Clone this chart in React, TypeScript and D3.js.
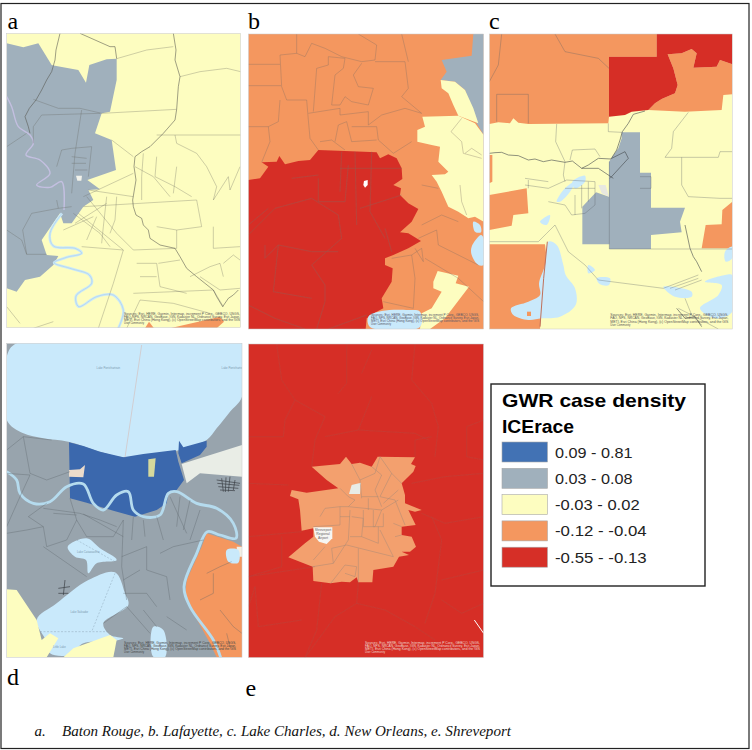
import React from "react";
import * as d3 from "d3";

type Pt = [number, number];

// legend
const legendTitle = "GWR case density";
const legendSub = "ICErace";
const classLabels = ["0.09 - 0.81", "0.03 - 0.08", "-0.03 - 0.02", "-0.12 - -0.04", "-0.55 - -0.13"];
const classColors = ["#4272b4", "#a0b0bc", "#fdfdc0", "#f4975f", "#d62f27"];
const [BLUE, GREY, YELLOW, ORANGE, RED] = classColors;
const WATER = "#c9e9fb";
const caption = "Baton Rouge, b. Lafayette, c. Lake Charles, d. New Orleans, e. Shreveport";
const credits = [
  "Sources: Esri, HERE, Garmin, Intermap, increment P Corp., GEBCO, USGS,",
  "FAO, NPS, NRCAN, GeoBase, IGN, Kadaster NL, Ordnance Survey, Esri Japan,",
  "METI, Esri China (Hong Kong), (c) OpenStreetMap contributors, and the GIS",
  "User Community",
];

// a. Baton Rouge
const aGrey: Pt[] = [[20,130],[70,142],[115,130],[155,195],[165,197],[235,210],[258,248],[268,195],[320,178],[350,176],[350,240],[330,335],[305,340],[285,400],[335,420],[348,510],[262,540],[300,568],[265,570],[280,600],[250,620],[215,670],[190,670],[180,640],[125,720],[140,765],[175,768],[160,795],[120,830],[75,840],[50,875],[20,865]];
const aOrange: Pt[] = [[510,985],[660,950],[672,965],[650,985]];
const aPatch: Pt[] = [[228,527],[246,527],[244,542],[232,542]];
const aOrange2: Pt[] = [[435,985],[447,965],[462,985]];
const aRiver: Pt[] = [[186,640],[150,700],[160,738],[225,745],[245,760],[200,772],[162,788],[210,805],[268,825],[275,850],[228,888],[236,920],[290,890],[340,885],[370,930],[355,985]];
const aUpperRiver: Pt[] = [[20,290],[35,320],[55,380],[90,405],[100,430],[78,465],[120,480],[150,520],[110,555],[150,562],[185,545],[192,630]];
const aAmite: Pt[][] = [
  [[180,100],[168,150],[165,180],[155,215],[140,240],[125,270],[108,300],[88,325],[75,350],[85,380],[90,400]],
  [[530,328],[525,360],[490,400],[450,440],[425,455],[405,470],[402,500],[408,540],[398,600],[400,620],[408,645],[425,655],[430,675],[445,690],[450,715],[480,735],[525,745],[540,770],[560,805],[590,830],[640,870],[650,890],[668,920],[685,895],[700,885],[715,870]],
  [[350,176],[345,140],[330,140],[240,100]],
  [[520,100],[528,150],[525,180],[540,230],[535,260],[530,328]],
];
const aLines: Pt[][] = [
  [[100,298],[175,325],[240,325],[305,340],[530,328]],
  [[350,176],[440,150],[520,140]],
  [[540,230],[600,215],[680,205],[722,215]],
  [[470,405],[722,405]],
  [[525,405],[530,430],[590,460],[620,500],[650,560],[640,600],[685,530],[690,570],[720,500]],
  [[245,330],[225,460],[215,580]],
  [[125,345],[300,340]],
  [[125,345],[100,380],[100,430]],
  [[275,440],[215,445],[185,450],[170,500]],
  [[265,530],[275,440]],
  [[335,420],[400,470]],
  [[215,470],[260,475]],
  [[215,490],[258,490]],
  [[225,510],[262,510]],
  [[170,600],[175,625],[215,620]],
  [[175,625],[95,640],[68,690],[80,763],[140,763]],
  [[20,690],[65,720],[80,763]],
  [[20,440],[50,420],[80,400]],
  [[250,590],[400,520]],
  [[265,570],[400,590]],
  [[250,620],[590,600]],
  [[235,640],[370,750]],
  [[260,590],[350,700],[400,750],[530,745]],
  [[220,640],[300,700],[330,740]],
  [[290,650],[260,720]],
  [[320,590],[310,680],[305,730]],
  [[350,590],[345,660],[330,700]],
  [[225,670],[320,610]],
  [[190,690],[280,650]],
  [[245,740],[370,750]],
  [[370,750],[340,850],[295,985]],
  [[405,500],[460,530],[510,590]],
  [[430,460],[425,530],[425,600]],
  [[470,470],[465,530],[525,560],[575,590]],
  [[530,500],[520,580]],
  [[590,600],[605,680],[530,690],[470,680]],
  [[530,690],[530,745]],
  [[640,680],[640,745],[720,740]],
  [[410,790],[470,790],[480,860],[560,880]],
  [[475,790],[540,780]],
  [[420,830],[470,830]],
  [[400,880],[640,870],[670,920]],
  [[380,985],[420,900],[520,910],[630,940]],
  [[20,920],[60,970]],
  [[100,985],[160,965]],
  [[570,830],[630,800],[660,790],[670,830]],
  [[600,830],[660,870],[720,865]],
  [[670,790],[700,765],[720,780]],
];

// b. Lafayette
const bRed: Pt[] = [[10,465],[45,460],[70,425],[50,412],[95,410],[103,393],[120,418],[160,408],[195,405],[220,375],[300,378],[395,382],[405,400],[430,388],[455,400],[470,430],[472,462],[445,480],[468,490],[465,510],[490,535],[520,552],[500,590],[465,622],[490,625],[528,648],[490,670],[445,690],[420,700],[420,720],[443,730],[440,770],[410,820],[415,850],[395,860],[365,880],[362,912],[10,912]];
const bYellowNorth: Pt[] = [[587,165],[630,170],[660,195],[685,250],[700,295],[640,272],[625,240],[610,205],[590,190]];
const bYellowMid: Pt[] = [[532,275],[640,272],[690,295],[716,330],[716,590],[690,575],[670,580],[640,560],[610,545],[590,500],[575,470],[560,450],[600,448],[610,440],[580,410],[585,365],[560,360],[517,350],[517,315],[540,305]];
const bGrey: Pt[] = [[685,27],[716,27],[716,330],[695,295],[660,195],[630,170],[587,165],[605,140],[590,105],[680,92]];
const bYellowSouth: Pt[] = [[578,738],[640,752],[632,775],[672,785],[600,880],[555,912],[525,912],[530,865],[560,850],[590,800],[565,790],[565,770]];
const bWaterSouth: Pt[] = [[370,875],[410,858],[490,855],[525,860],[525,906],[375,906]];
const bWaterEastA: Pt[] = [[685,590],[705,600],[708,622],[690,620]];
const bWaterEastB: Pt[] = [[680,665],[708,630],[716,640],[716,720],[700,720],[680,690]];
const bPatch: Pt[] = [[357,468],[368,465],[368,480],[360,488],[355,480]];
const bLines: Pt[][] = [
  [[10,118],[105,118]],
  [[10,182],[108,182]],
  [[105,90],[155,85],[155,27]],
  [[105,90],[110,185],[125,225],[185,225],[190,285]],
  [[105,225],[100,290],[70,305],[75,350],[50,412]],
  [[10,305],[70,305]],
  [[155,85],[180,95],[200,55],[240,70],[290,95],[350,110],[390,105],[395,60],[340,27]],
  [[390,110],[480,110],[490,190],[470,215],[530,265]],
  [[470,27],[490,110]],
  [[205,260],[215,130],[250,120],[250,95],[300,100],[295,130],[270,150],[260,240],[285,240],[300,215],[320,230],[370,240],[385,190],[340,185],[325,150],[350,115]],
  [[190,265],[285,250],[285,270],[370,260],[370,300],[410,270],[480,250],[530,265]],
  [[190,285],[195,340],[220,375]],
  [[270,350],[280,300],[305,290],[320,350],[395,345]],
  [[320,305],[395,305],[400,345],[445,385],[500,350]],
  [[225,350],[260,345],[300,375]],
  [[520,640],[575,615],[580,660],[640,690],[700,720]],
  [[500,690],[510,760],[505,850]],
  [[540,700],[640,760],[716,830]],
  [[510,670],[535,710],[530,670],[500,690]],
  [[440,700],[500,690]],
  [[530,600],[590,570],[640,590]],
  [[415,830],[505,850]],
  [[530,480],[580,490]],
  [[650,280],[618,320],[650,350],[655,385],[710,400]],
  [[660,385],[680,370],[710,390]],
  [[645,480],[650,530],[665,570]],
  [[10,630],[90,550],[200,520],[280,570],[290,640],[200,720],[240,780],[240,830],[215,912]],
  [[60,660],[60,700],[100,660],[85,800],[200,820]],
  [[220,460],[220,530],[300,530],[310,420]],
  [[285,430],[470,430]],
  [[290,380],[285,500]],
  [[330,380],[335,600]],
  [[380,380],[375,560],[420,640]],
  [[345,550],[470,510]],
  [[10,840],[90,880],[180,912]],
  [[250,912],[365,870]],
  [[420,610],[440,680]],
  [[100,660],[200,680],[280,680]],
  [[140,460],[220,450]],
  [[10,600],[70,550]],
];

// c. Lake Charles
const cOrangeNorth: Pt[] = [[13,27],[515,27],[515,95],[372,95],[372,275],[370,295],[130,297],[100,293],[85,280],[75,295],[40,292],[13,297]];
const cRed: Pt[] = [[515,27],[742,27],[742,118],[705,105],[695,125],[625,128],[635,85],[620,72],[590,85],[548,88],[565,130],[578,180],[570,205],[530,222],[510,235],[490,255],[440,260],[420,270],[372,275],[372,95],[515,95]];
const cOrangeMid: Pt[] = [[548,88],[590,85],[620,72],[635,85],[625,128],[695,125],[705,105],[742,118],[742,208],[715,210],[710,255],[600,260],[490,255],[510,235],[530,222],[570,205],[578,180],[565,130]];
const cGrey: Pt[] = [[410,322],[465,322],[465,443],[498,443],[498,548],[600,548],[585,590],[590,622],[498,630],[498,672],[373,672],[373,658],[292,658],[292,545],[333,502],[372,515],[372,410],[400,370],[410,340]];
const cOrangeEdge: Pt[] = [[13,390],[22,390],[22,470],[13,475]];
const cOrangeWest: Pt[] = [[13,510],[125,490],[130,565],[85,570],[80,602],[13,615]];
const cOrangeEast: Pt[] = [[742,530],[742,670],[650,670],[662,600],[710,598],[712,555]];
const cOrangeSouth: Pt[] = [[13,658],[180,658],[185,700],[175,790],[165,912],[13,912]];
const cLake: Pt[] = [[190,650],[215,660],[235,720],[242,750],[270,790],[272,840],[225,875],[170,880],[130,885],[85,870],[78,850],[130,830],[165,810],[162,775],[180,720]];
const cIsland: Pt[] = [[126,860],[138,860],[138,873],[126,873]];
const cPonds: Pt[][] = [
  [[262,470],[300,452],[300,470],[270,490]],
  [[215,530],[240,490],[270,470],[255,500],[225,530]],
  [[165,590],[195,570],[185,600]],
  [[310,720],[330,735],[310,745]],
  [[335,760],[375,760],[372,780],[345,778]],
  [[535,785],[620,800],[620,815],[570,815]],
  [[660,770],[720,750],[742,750],[742,860],[690,880],[645,850],[700,810],[710,780]],
  [[720,680],[742,665],[742,700],[722,710]],
];
const cPatch: Pt[] = [[340,480],[362,480],[372,515],[350,505]];
const cRivers: Pt[][] = [
  [[13,385],[30,383],[50,382],[70,390],[100,392],[130,405],[150,402],[175,410],[200,405],[240,412],[262,408],[290,430],[310,420],[340,400],[378,402],[395,375],[405,345],[412,320],[430,295],[445,268],[480,258]],
  [[600,600],[615,670],[625,695],[635,710],[650,740]],
  [[380,400],[420,380],[430,400],[375,460]],
  [[290,430],[340,430],[385,460]],
  [[575,850],[600,880],[630,875],[650,905]],
];
const cLines: Pt[][] = [
  [[210,27],[240,80],[340,100],[372,130]],
  [[50,27],[40,120],[13,170]],
  [[35,290],[35,208],[130,208],[130,295]],
  [[215,297],[212,350],[240,410],[235,450],[240,470]],
  [[370,295],[370,320],[410,322]],
  [[255,405],[262,375],[330,372],[345,395]],
  [[610,262],[565,320],[560,370],[540,397],[700,397],[705,380],[742,380]],
  [[590,397],[590,480],[610,515],[705,520],[742,520]],
  [[120,460],[190,470]],
  [[120,480],[190,490],[245,465],[330,470],[330,540],[300,565],[260,570],[240,540],[190,530]],
  [[130,465],[130,490]],
  [[13,650],[160,650],[185,625],[210,600]],
  [[210,600],[250,680],[300,720],[340,765],[535,790],[640,750]],
  [[555,790],[640,760]],
  [[570,795],[650,765]],
  [[373,672],[742,672]],
  [[373,410],[373,672]],
  [[465,455],[498,455],[498,490],[465,490]],
  [[240,490],[330,490]],
  [[270,510],[270,570]],
  [[290,480],[290,550]],
  [[310,470],[310,530]],
  [[600,820],[620,870],[650,900]],
  [[580,850],[640,880],[700,912]],
];
const cCoast: Pt[] = [[187,650],[176,760],[165,905]];

// d. New Orleans
const dPontchartrain: Pt[] = [[20,50],[50,10],[726,10],[726,170],[690,215],[650,265],[620,300],[540,330],[420,348],[370,352],[300,335],[205,305],[130,295],[70,280],[20,240]];
const dBlue: Pt[] = [[207,307],[250,318],[300,335],[370,352],[430,342],[527,330],[535,365],[552,420],[530,450],[505,460],[500,490],[470,510],[405,530],[340,512],[260,488],[210,475]];
const dBlueEast: Pt[] = [[537,302],[550,322],[620,302],[620,320],[600,345],[545,370],[535,340]];
const dTan: Pt[] = [[207,390],[240,388],[255,375],[250,412],[207,410]];
const dPark: Pt[] = [[445,358],[467,355],[462,410],[445,410]];
const dWetland: Pt[] = [[545,372],[726,315],[726,410],[600,400],[560,430]];
const dOrange: Pt[] = [[620,580],[700,605],[726,620],[726,952],[650,952],[630,910],[575,810],[555,770],[560,720],[605,620]];
const dCataouatche: Pt[] = [[203,620],[260,595],[300,625],[350,660],[290,670],[265,700],[258,660],[225,650]];
const dSalvador: Pt[] = [[110,840],[170,790],[265,720],[345,697],[375,760],[385,795],[310,850],[330,885],[370,895],[330,905],[250,910],[210,945],[150,940],[140,905]];
const dYellowWest: Pt[] = [[20,748],[50,750],[110,840],[125,900],[150,880],[175,895],[140,952],[20,952]];
const dYellowSouth: Pt[] = [[190,952],[220,925],[330,885],[350,900],[340,952]];
const dWaterBay: Pt[] = [[460,860],[490,870],[495,952],[460,950]];
const dPond: Pt[] = [[680,630],[715,630],[715,668],[685,665]];
const dSliver: Pt[] = [[710,620],[726,620],[726,650],[712,650]];
const dRiver: Pt[] = [[20,395],[50,420],[60,460],[100,490],[150,485],[200,440],[250,432],[280,490],[310,510],[350,465],[385,455],[400,510],[430,530],[480,525],[505,460],[530,455],[590,490],[650,505],[700,550],[708,595],[660,585],[622,575],[590,640],[552,740],[570,800],[640,900],[662,952]];
const dLines: Pt[][] = [
  [[20,330],[70,290],[155,300]],
  [[70,290],[90,400],[140,420],[210,395]],
  [[20,400],[90,405]],
  [[90,405],[60,470],[20,560]],
  [[140,490],[85,530],[130,560],[140,620],[200,600],[230,540],[210,475]],
  [[130,505],[240,520],[300,540],[350,560]],
  [[230,540],[260,590],[340,590],[370,540]],
  [[20,580],[80,570],[130,560]],
  [[130,620],[260,710]],
  [[400,530],[395,600]],
  [[430,540],[435,590]],
  [[470,530],[490,600]],
  [[510,470],[560,580]],
  [[540,470],[530,560]],
  [[570,480],[550,570]],
  [[600,510],[570,600]],
  [[370,540],[365,680],[380,780]],
  [[365,650],[440,620],[440,690],[500,710],[510,780]],
  [[480,640],[520,620],[610,600]],
  [[370,760],[440,760],[470,800]],
  [[310,850],[380,800],[450,880]],
  [[430,810],[470,860]],
  [[500,830],[560,870]],
  [[370,720],[420,690]],
  [[250,522],[370,590]],
  [[160,520],[230,525]],
  [[620,700],[660,680],[695,665]],
  [[640,700],[640,760],[600,780]],
  [[660,810],[700,860],[726,880]],
  [[680,880],[690,920]],
];
const dDenseLines: Pt[][] = [
  [[650,420],[720,430]],
  [[652,430],[718,436]],
  [[655,440],[715,445]],
  [[660,450],[705,452]],
  [[665,415],[670,455]],
  [[678,412],[676,456]],
  [[690,410],[685,455]],
  [[705,420],[700,450]],
  [[175,745],[210,740]],
  [[205,760],[175,760]],
  [[195,720],[190,765]],
];
const dDashed: Pt[][] = [
  [[230,600],[345,665]],
  [[345,700],[275,875]],
  [[120,875],[330,875]],
];
const dCauseway: Pt[] = [[425,15],[375,352]];
const dLakeNames: [string, number, number][] = [
  ["Lake Pontchartrain", 325, 88],
  ["Lake Pontchartrain", 700, 88],
  ["Lake Cataouatche", 265, 638],
  ["Lake Salvador", 238, 820],
  ["Little Lake", 178, 925],
];

// e. Shreveport
const eOrange: Pt[] = [[200,380],[285,372],[303,350],[320,372],[345,368],[380,380],[398,350],[510,352],[498,372],[512,378],[505,395],[470,430],[480,465],[480,490],[530,510],[510,515],[490,510],[512,555],[470,560],[470,585],[500,590],[513,620],[495,635],[470,635],[492,645],[462,650],[445,680],[385,690],[382,727],[340,727],[335,712],[315,727],[290,725],[257,730],[205,723],[203,680],[130,652],[180,610],[205,590],[205,565],[170,572],[165,510],[160,478],[135,468],[140,450],[185,458],[280,445],[245,420]];
const ePatch: Pt[] = [[312,462],[320,435],[348,428],[345,462]];
const eAirport: Pt[] = [[205,562],[262,562],[262,595],[245,612],[222,605],[210,590]];
const eAirportName = ["Shreveport", "Regional", "Airport"];
const eRedLines: Pt[][] = [
  [[95,12],[110,120],[150,180],[120,240],[115,290],[10,290]],
  [[305,12],[305,130],[280,160]],
  [[10,430],[130,435]],
  [[10,590],[170,575]],
  [[110,590],[110,680],[10,710]],
  [[10,710],[210,680]],
  [[150,180],[240,230],[210,300],[200,380]],
  [[350,100],[380,30]],
  [[510,12],[500,120],[560,190],[580,260],[570,350]],
  [[560,290],[510,300],[510,350]],
  [[716,240],[665,260],[665,350],[716,360]],
  [[500,430],[600,410],[716,400]],
  [[530,520],[600,550],[716,530]],
  [[560,530],[590,600],[570,760],[540,850]],
  [[230,730],[215,870],[180,953]],
  [[340,730],[335,790],[270,830],[180,953]],
  [[335,790],[420,810],[510,860],[570,900]],
  [[590,780],[650,820],[716,790]],
  [[30,740],[40,860],[170,840]],
  [[590,720],[716,690]],
  [[10,800],[30,740]],
  [[340,270],[510,280],[550,300]],
  [[240,290],[340,270],[380,170]],
];
const eCityLines: Pt[][] = [
  [[285,445],[310,470],[330,480],[310,500],[285,500],[285,555],[205,560]],
  [[310,500],[410,510],[460,480]],
  [[315,510],[310,600],[265,670],[260,625],[305,615]],
  [[355,510],[355,560],[390,560],[410,510]],
  [[320,530],[355,535],[350,590],[315,590]],
  [[285,530],[315,530]],
  [[385,510],[385,560],[415,560],[415,520]],
  [[350,590],[400,610],[400,560]],
  [[305,615],[445,650],[405,570]],
  [[340,625],[340,727]],
  [[265,670],[203,680]],
  [[257,730],[300,675],[335,680],[330,710],[300,700]],
  [[240,620],[205,660]],
  [[225,530],[240,505],[285,500]],
  [[320,372],[345,420],[350,475]],
  [[345,420],[390,400],[405,350],[440,400],[470,430]],
  [[380,380],[410,405],[390,450],[410,500]],
  [[350,470],[400,470]],
  [[440,400],[405,470],[450,480],[480,555]],
  [[370,475],[370,510]],
  [[415,490],[460,450]],
  [[445,550],[470,560]],
  [[450,590],[470,585]],
];
const eRoad: Pt[] = [[688,840],[716,880]];

// map units are 1/3 px, origin given per panel
const panels = [
  {
    id: "a", label: "a", labelPos: [7.5, 29], origin: [0, 0], extent: [20, 100, 722, 983], bg: YELLOW,
    fills: [[aGrey, GREY], [aOrange, ORANGE], [aOrange2, ORANGE], [aPatch, "#f2f2ea"]],
    strokes: [
      { pts: [aRiver], color: WATER, w: 2.6, smooth: true },
      { pts: [aRiver], color: "#9ab4c8", w: 0.3, smooth: true },
      { pts: [aUpperRiver], color: "#c3bfe0", w: 1.4, smooth: true },
      { pts: aLines, color: "#62625a", w: 0.55, op: 0.55 },
      { pts: aAmite, color: "#55554e", w: 0.7, op: 0.8 },
    ],
    credit: [372, 945, "#555", 116],
  },
  {
    id: "b", label: "b", labelPos: [248, 29], origin: [245, 25], extent: [10, 27, 716, 912], bg: ORANGE,
    fills: [[bRed, RED], [bGrey, GREY], [bYellowNorth, YELLOW], [bYellowMid, YELLOW], [bYellowSouth, YELLOW], [bWaterSouth, WATER], [bWaterEastA, WATER], [bWaterEastB, WATER], [bPatch, "#ffffff"]],
    strokes: [{ pts: bLines, color: "#7c6a62", w: 0.55, op: 0.6 }],
    credit: [378, 872, "#556", 108],
  },
  {
    id: "c", label: "c", labelPos: [489, 29], origin: [485, 25], extent: [13, 27, 742, 912], bg: YELLOW,
    fills: [[cOrangeNorth, ORANGE], [cOrangeMid, ORANGE], [cRed, RED], [cGrey, GREY], [cOrangeEdge, ORANGE], [cOrangeWest, ORANGE], [cOrangeEast, ORANGE], [cOrangeSouth, ORANGE], [cLake, WATER], [cIsland, ORANGE], [cPatch, "#e8e8e0"], ...cPonds.map(p => [p, WATER])],
    strokes: [
      { pts: [cCoast], color: "#c0705a", w: 1 },
      { pts: cLines, color: "#5a6066", w: 0.55, op: 0.6 },
      { pts: cRivers, color: "#44484c", w: 0.7, op: 0.85 },
    ],
    credit: [376, 874, "#555", 118],
  },
  {
    id: "d", label: "d", labelPos: [7, 685], origin: [0, 340], extent: [20, 10, 726, 952], bg: "#98a4ad",
    fills: [[dPontchartrain, WATER], [dWetland, "#e9ede6"], [dBlue, "#3b67ad"], [dBlueEast, "#3b67ad"], [dTan, "#ecdccb"], [dPark, "#d6d99c"], [dOrange, ORANGE], [dSliver, "#f2efe4"], [dPond, WATER], [dCataouatche, WATER], [dSalvador, WATER], [dYellowWest, YELLOW], [dYellowSouth, YELLOW], [dWaterBay, WATER]],
    strokes: [
      { pts: [dRiver], color: "#b5dbee", w: 2.8, smooth: true },
      { pts: dLines, color: "#5c6369", w: 0.55, op: 0.65 },
      { pts: dDenseLines, color: "#3c4146", w: 0.7 },
      { pts: [dCauseway], color: "#d9b3a8", w: 0.5 },
      { pts: dDashed, color: "#8097a8", w: 0.4, dash: "2 1.5" },
    ],
    credit: [372, 912, "#444", 112],
  },
  {
    id: "e", label: "e", labelPos: [245.5, 696], origin: [245, 340], extent: [10, 12, 716, 953], bg: RED,
    fills: [[eOrange, "#f3a06e"], [ePatch, "#e8ece6"], [eAirport, "#f6f6f2"]],
    strokes: [
      { pts: eRedLines, color: "#a0544c", w: 0.5, op: 0.5 },
      { pts: eCityLines, color: "#a88a76", w: 0.5 },
      { pts: [eRoad], color: "#ffffff", w: 1 },
    ],
    credit: [360, 912, "#f0d8d0", 115],
  },
] as any[];

function MapPanel({ p }: { p: any }) {
  const [x0, y0, x1, y1] = p.extent;
  const x = d3.scaleLinear().domain([0, 3]).range([p.origin[0], p.origin[0] + 1]);
  const y = d3.scaleLinear().domain([0, 3]).range([p.origin[1], p.origin[1] + 1]);
  const line = d3.line<Pt>().x(d => x(d[0])).y(d => y(d[1]));
  const curved = d3.line<Pt>().x(d => x(d[0])).y(d => y(d[1])).curve(d3.curveCatmullRom.alpha(0.5));
  const shore = d3.line<Pt>().x(d => x(d[0])).y(d => y(d[1])).curve(d3.curveCatmullRomClosed.alpha(0.5));
  return (
    <g>
      <clipPath id={"clip-" + p.id}>
        <rect x={x(x0)} y={y(y0)} width={x(x1) - x(x0)} height={y(y1) - y(y0)} />
      </clipPath>
      <g clipPath={`url(#clip-${p.id})`}>
        <g filter="url(#soft)">
          <rect x={x(x0)} y={y(y0)} width={x(x1) - x(x0)} height={y(y1) - y(y0)} fill={p.bg} />
          {p.fills.map(([pts, color]: [Pt[], string], i: number) => (
            <path key={i} d={color === WATER ? shore(pts)! : line(pts) + "Z"} fill={color} />
          ))}
          {p.strokes.map((s: any, i: number) => (
            <path
              key={i}
              d={s.pts.map((l: Pt[]) => (s.smooth ? curved(l) : line(l))).join("")}
              fill="none"
              stroke={s.color}
              strokeWidth={s.w}
              strokeOpacity={s.op ?? 1}
              strokeDasharray={s.dash}
            />
          ))}
        </g>
        {p.id === "d" && dLakeNames.map(([name, lx, ly], i) => (
          <text key={i} x={x(lx)} y={y(ly)} textAnchor="middle" fontSize={2.8} fill="#7d9bb0" fontFamily="Liberation Sans">{name}</text>
        ))}
        {p.id === "e" && eAirportName.map((t, i) => (
          <text key={i} x={x(234)} y={y(572 + i * 12)} textAnchor="middle" fontSize={3.4} fill="#666" fontFamily="Liberation Sans">{t}</text>
        ))}
        {credits.map((t, i) => (
          <text
            key={i}
            x={x(p.credit[0])}
            y={y(p.credit[1]) + i * 3.1}
            fontSize={2.7}
            fill={p.credit[2]}
            fontFamily="Liberation Sans"
            textLength={i < 3 ? p.credit[3] : undefined}
            lengthAdjust="spacingAndGlyphs"
          >
            {t}
          </text>
        ))}
      </g>
      <rect x={x(x0)} y={y(y0)} width={x(x1) - x(x0)} height={y(y1) - y(y0)} fill="none" stroke="#c8c8c8" strokeWidth={0.5} />
      <text x={p.labelPos[0]} y={p.labelPos[1]} fontFamily="Liberation Serif" fontSize={24} fill="#000">{p.label}</text>
    </g>
  );
}

export default function App() {
  const rowY = d3.scaleBand<number>().domain(d3.range(classLabels.length)).range([441.5, 573]).padding(0);
  return (
    <svg width={752} height={750} style={{ position: "absolute", left: 0, top: 0, background: "#fff" }}>
      <defs>
        <filter id="soft" x="0" y="0" width="1" height="1">
          <feGaussianBlur stdDeviation={0.35} />
        </filter>
      </defs>
      <rect x={1} y={3.5} width={748} height={745} fill="none" stroke="#222" strokeWidth={1.2} />
      {panels.map(p => <MapPanel key={p.id} p={p} />)}

      <rect x={491} y={384} width={214} height={202} fill="#fff" stroke="#222" strokeWidth={1.4} />
      <text x={502} y={407} fontFamily="Liberation Sans" fontWeight="bold" fontSize={18.5} textLength={184} lengthAdjust="spacingAndGlyphs">{legendTitle}</text>
      <text x={502} y={433} fontFamily="Liberation Sans" fontWeight="bold" fontSize={18} textLength={72} lengthAdjust="spacingAndGlyphs">{legendSub}</text>
      {classLabels.map((label, i) => (
        <g key={label}>
          <rect x={502} y={rowY(i)! + 0.5} width={45.5} height={20} fill={classColors[i]} stroke="#a8a8a8" strokeWidth={0.6} />
          <text x={555} y={rowY(i)! + 16} fontFamily="Liberation Sans" fontSize={15} fill="#222" textLength={label.length * 7.05} lengthAdjust="spacingAndGlyphs">{label}</text>
        </g>
      ))}

      <text x={34.5} y={736} fontFamily="Liberation Serif" fontStyle="italic" fontSize={15} fill="#111">a.</text>
      <text x={62} y={736} fontFamily="Liberation Serif" fontStyle="italic" fontSize={15} fill="#111" textLength={449} lengthAdjust="spacingAndGlyphs">{caption}</text>
    </svg>
  );
}
